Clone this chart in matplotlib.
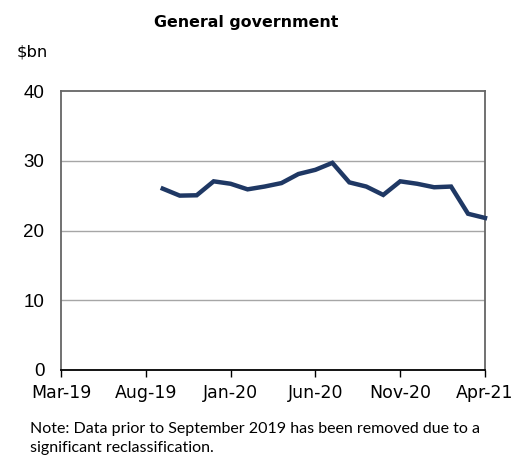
import matplotlib
matplotlib.use("Agg")
import matplotlib.pyplot as plt
import pandas as pd

months = pd.period_range("2019-03", "2021-04", freq="M")
data_months = pd.period_range("2019-09", "2021-04", freq="M")
values = [26.0, 25.0, 25.05, 27.05, 26.7, 25.9, 26.3, 26.8, 28.1, 28.7, 29.7,
          26.9, 26.3, 25.1, 27.05, 26.7, 26.2, 26.3, 22.4, 21.8]
tick_labels = ["Mar-19", "Aug-19", "Jan-20", "Jun-20", "Nov-20", "Apr-21"]
y_ticks = [0, 10, 20, 30, 40]

fig = plt.figure(figsize=(5.18, 4.55), dpi=100)
ax = fig.add_axes([61/518, 85/455, 424/518, 279/455])

x_all = list(range(len(months)))
start = list(months).index(data_months[0])
xs = [start + i for i in range(len(values))]
ax.plot(xs, values, color="#1f3864", lw=3.2, solid_joinstyle="miter", zorder=3, clip_on=False)

ax.set_xlim(0, len(months) - 1)
ax.set_ylim(0, 40)
ax.set_yticks(y_ticks)
ax.set_yticklabels([str(v) for v in y_ticks], family="Liberation Sans", fontsize=13.5)
tick_pos = [x_all[i] for i in range(0, len(months), 5)]
ax.set_xticks(tick_pos)
ax.set_xticklabels(tick_labels, family="DejaVu Sans", fontsize=12.5)
ax.tick_params(axis="y", length=0, pad=12)
ax.tick_params(axis="x", length=5, direction="out", color="black", width=1, pad=5)
for v in [10, 20, 30]:
    ax.axhline(v, color="#a6a6a6", lw=1, zorder=1)
for s in ["top", "right", "left"]:
    ax.spines[s].set_color("#666666")
    ax.spines[s].set_linewidth(1.3)
ax.spines["bottom"].set_color("black")
ax.spines["bottom"].set_linewidth(1.3)

fig.text(246/518, 1 - 23/455, "General government", ha="center", va="center",
         family="DejaVu Sans", fontweight="bold", fontsize=11.4)
fig.text(17/518, 1 - 52/455, "$bn", ha="left", va="center",
         family="DejaVu Sans", fontsize=11.8)
fig.text(30/518, 1 - 429/455, "Note: Data prior to September 2019 has been removed due to a",
         ha="left", va="center", family="Lato", fontsize=11.5)
fig.text(30/518, 1 - 448/455, "significant reclassification.",
         ha="left", va="center", family="Lato", fontsize=11.5)

fig.savefig("out.png", dpi=100)
